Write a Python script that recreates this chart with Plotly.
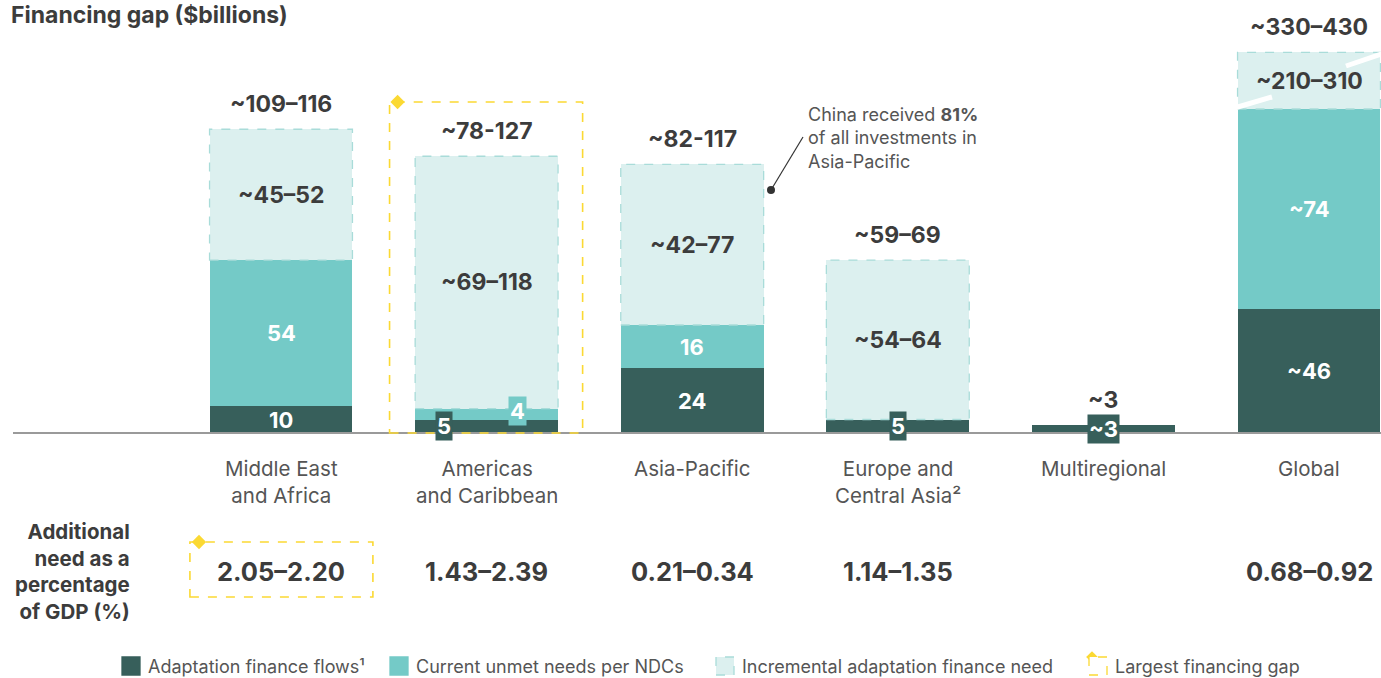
import plotly.graph_objects as go

# --- data ---
regions = ["Middle East<br>and Africa", "Americas<br>and Caribbean", "Asia-Pacific",
           "Europe and<br>Central Asia²", "Multiregional", "Global"]
flows = [10, 5, 24, 5, 3, 46]          # adaptation finance flows
unmet = [54, 4, 16, 0, 0, 74]          # current unmet needs per NDCs
incr_low = [45, 69, 42, 54, 0, 210]    # incremental need, low end
incr_high = [52, 118, 77, 64, 0, 310]  # incremental need, high end
flow_labels = ["10", "5", "24", "5", "~3", "~46"]
unmet_labels = ["54", "4", "16", "", "", "~74"]
incr_labels = ["~45–52", "~69–118", "~42–77", "~54–64", "", "~210–310"]
total_labels = ["~109–116", "~78-127", "~82-117", "~59–69", "~3", "~330–430"]
gdp_share = ["2.05–2.20", "1.43–2.39", "0.21–0.34", "1.14–1.35", "", "0.68–0.92"]
largest_gap = 1   # index of region with largest financing gap
AXIS_CAP = 141    # global bar is cut (axis break) above this value

DARK = "#375F5B"
MID = "#74CAC7"
LIGHT = "#DCF0EF"
LIGHT_EDGE = "#A9DCD9"
YELLOW = "#FBD933"
TXT = "#3C3C3C"
GREY = "#555555"
FONT = "Inter, Roboto, sans-serif"

W, H = 1381, 678
X0_PX, XU = 281, 205.6   # pixel of first category, pixels per category
Y0_PX, YU = 433, 2.7     # pixel of zero line, pixels per $bn
BW = 0.695


def dx(px):
    return (px - X0_PX) / XU


def dy(py):
    return (Y0_PX - py) / YU


def px_(p):
    return p / W


def py_(p):
    return 1 - p / H


x = list(range(len(regions)))
base_incr = [f + u for f, u in zip(flows, unmet)]
incr_mid = [(lo + hi) / 2 for lo, hi in zip(incr_low, incr_high)]
incr_show = [min(m, AXIS_CAP - b) for m, b in zip(incr_mid, base_incr)]

fig = go.Figure()
fig.add_trace(go.Bar(x=x, y=flows, marker=dict(color=DARK, line_width=0), width=BW,
                     name="Adaptation finance flows¹", showlegend=False, hoverinfo="skip"))
fig.add_trace(go.Bar(x=x, y=unmet, marker=dict(color=MID, line_width=0), width=BW,
                     name="Current unmet needs per NDCs", showlegend=False, hoverinfo="skip"))
fig.add_trace(go.Bar(x=x, y=incr_show, marker=dict(color=LIGHT, line_width=0), width=BW,
                     name="Incremental adaptation finance need", showlegend=False, hoverinfo="skip"))

shapes = []
ann = []

# baseline
shapes.append(dict(type="line", xref="x", yref="y", x0=dx(13), x1=dx(W), y0=0, y1=0,
                   line=dict(color="#9A9A9A", width=2), layer="above"))

for i in x:
    # dashed outline of incremental segments
    if incr_show[i] > 0:
        shapes.append(dict(type="rect", xref="x", yref="y", x0=i - BW / 2, x1=i + BW / 2,
                           y0=base_incr[i], y1=base_incr[i] + incr_show[i],
                           line=dict(color=LIGHT_EDGE, width=1.3, dash="dash")))
        ann.append(dict(x=i, y=base_incr[i] + incr_show[i] / 2, text="<b>%s</b>" % incr_labels[i],
                        showarrow=False, font=dict(size=23, color=TXT, family=FONT)))
    top = base_incr[i] + incr_show[i]
    ann.append(dict(x=i, y=top, yanchor="bottom", yshift=9, text="<b>%s</b>" % total_labels[i],
                    showarrow=False, font=dict(size=23, color=TXT, family=FONT)))

    small_pair = flows[i] < 8 and 0 < unmet[i] < 8
    # flows label
    if flows[i] >= 8:
        ann.append(dict(x=i, y=flows[i] / 2, text="<b>%s</b>" % flow_labels[i], showarrow=False,
                        font=dict(size=22, color="white", family=FONT)))
    else:
        ann.append(dict(x=i, y=flows[i] / 2, xshift=-43 if small_pair else 0,
                        text="<b>%s</b>" % flow_labels[i], showarrow=False, bgcolor=DARK,
                        borderpad=1, font=dict(size=22, color="white", family=FONT)))
    # unmet label
    if unmet[i] >= 8:
        ann.append(dict(x=i, y=flows[i] + unmet[i] / 2, text="<b>%s</b>" % unmet_labels[i],
                        showarrow=False, font=dict(size=22, color="white", family=FONT)))
    elif unmet[i] > 0:
        ann.append(dict(x=i, y=flows[i] + unmet[i] / 2 + 1, xshift=31 if small_pair else 0,
                        text="<b>%s</b>" % unmet_labels[i], showarrow=False, bgcolor=MID,
                        borderpad=1, font=dict(size=22, color="white", family=FONT)))

    # category label
    ann.append(dict(x=i, y=dy(454), yanchor="top", text=regions[i], showarrow=False,
                    font=dict(size=20.5, color=GREY, family=FONT)))
    # GDP share
    if gdp_share[i]:
        ann.append(dict(x=i, y=dy(571), text="<b>%s</b>" % gdp_share[i], showarrow=False,
                        font=dict(size=25.5, color=TXT, family=FONT)))

# axis break slashes on global bar
shapes.append(dict(type="line", xref="x", yref="y", x0=dx(1231), x1=dx(1272), y0=dy(109), y1=dy(97),
                   line=dict(color="white", width=5)))
shapes.append(dict(type="line", xref="x", yref="y", x0=dx(1346), x1=dx(1390), y0=dy(66), y1=dy(51),
                   line=dict(color="white", width=5)))

# largest financing gap boxes
k = largest_gap
shapes.append(dict(type="rect", xref="x", yref="y", x0=k - 0.472, x1=k + 0.467, y0=0, y1=dy(102),
                   line=dict(color=YELLOW, width=1.6, dash="dash")))
shapes.append(dict(type="rect", xref="x", yref="y", x0=-0.443, x1=0.447, y0=dy(597), y1=dy(542),
                   line=dict(color=YELLOW, width=1.6, dash="dash")))
fig.add_trace(go.Scatter(x=[k - 0.433, dx(199)], y=[dy(102), dy(542)], mode="markers",
                         marker=dict(symbol="diamond", size=11, color=YELLOW),
                         showlegend=False, hoverinfo="skip"))

# China callout
fig.add_trace(go.Scatter(x=[dx(771)], y=[dy(190)], mode="markers",
                         marker=dict(size=8, color="#333333"), showlegend=False, hoverinfo="skip"))
shapes.append(dict(type="line", xref="x", yref="y", x0=dx(771), x1=dx(803), y0=dy(190), y1=dy(137),
                   line=dict(color="#333333", width=1.2)))
ann.append(dict(x=dx(806), y=dy(102), xanchor="left", yanchor="top", align="left",
                text="China received <b>81%</b><br>of all investments in<br>Asia-Pacific",
                showarrow=False, font=dict(size=18, color=GREY, family=FONT)))

# titles
ann.append(dict(x=px_(9), y=py_(15), xref="paper", yref="paper", xanchor="left", yanchor="middle",
                text="<b>Financing gap ($billions)</b>", showarrow=False,
                font=dict(size=23, color=TXT, family=FONT)))
ann.append(dict(x=px_(132), y=py_(517), xref="paper", yref="paper", xanchor="right", yanchor="top",
                align="right", text="<b>Additional<br>need as a<br>percentage<br>of GDP (%)</b>",
                showarrow=False, font=dict(size=20.5, color=TXT, family=FONT)))

# legend
leg = [(122, DARK, None, "Adaptation finance flows¹"),
       (390, MID, None, "Current unmet needs per NDCs"),
       (716, LIGHT, LIGHT_EDGE, "Incremental adaptation finance need"),
       (1089, "white", YELLOW, "Largest financing gap")]
for lx, fc, ec, label in leg:
    shapes.append(dict(type="rect", xref="paper", yref="paper", x0=px_(lx), x1=px_(lx + 18),
                       y0=py_(675), y1=py_(657), fillcolor=fc,
                       line=dict(color=ec if ec else fc, width=1.3, dash="dash" if ec else "solid")))
    ann.append(dict(x=px_(lx + 24), y=py_(666), xref="paper", yref="paper", xanchor="left",
                    yanchor="middle", text=label, showarrow=False,
                    font=dict(size=18, color=GREY, family=FONT)))
fig.add_trace(go.Scatter(x=[dx(1092)], y=[dy(657)], mode="markers",
                         marker=dict(symbol="diamond", size=9, color=YELLOW),
                         showlegend=False, hoverinfo="skip", cliponaxis=False))

fig.update_layout(
    barmode="stack",
    width=W, height=H,
    margin=dict(l=0, r=0, t=0, b=0),
    plot_bgcolor="white", paper_bgcolor="white",
    xaxis=dict(range=[dx(0), dx(W)], visible=False, fixedrange=True),
    yaxis=dict(range=[dy(H), dy(0)], visible=False, fixedrange=True),
    shapes=shapes, annotations=ann,
    showlegend=False,
    font=dict(family=FONT),
)

fig.write_html("out.html", config={"displayModeBar": False},
               post_script="document.body.style.margin='0';document.body.style.overflow='hidden';")
